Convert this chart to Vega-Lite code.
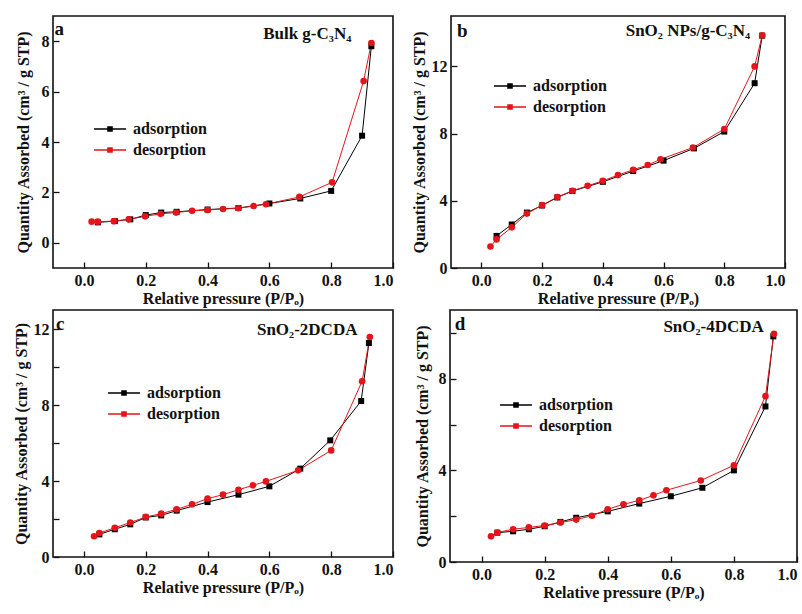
{
  "$schema": "https://vega.github.io/schema/vega-lite/v6.json",
  "background": "white",
  "padding": {"left": 12, "top": 15, "right": 5, "bottom": 5},
  "datasets": {
    "a": [
      {"p": 0.045, "q": 0.81, "s": "adsorption"},
      {"p": 0.1, "q": 0.86, "s": "adsorption"},
      {"p": 0.15, "q": 0.93, "s": "adsorption"},
      {"p": 0.2, "q": 1.1, "s": "adsorption"},
      {"p": 0.25, "q": 1.2, "s": "adsorption"},
      {"p": 0.3, "q": 1.23, "s": "adsorption"},
      {"p": 0.4, "q": 1.32, "s": "adsorption"},
      {"p": 0.5, "q": 1.38, "s": "adsorption"},
      {"p": 0.6, "q": 1.56, "s": "adsorption"},
      {"p": 0.7, "q": 1.76, "s": "adsorption"},
      {"p": 0.8, "q": 2.06, "s": "adsorption"},
      {"p": 0.9, "q": 4.25, "s": "adsorption"},
      {"p": 0.93, "q": 7.8, "s": "adsorption"},
      {"p": 0.93, "q": 7.93, "s": "desorption"},
      {"p": 0.905, "q": 6.42, "s": "desorption"},
      {"p": 0.803, "q": 2.4, "s": "desorption"},
      {"p": 0.697, "q": 1.82, "s": "desorption"},
      {"p": 0.589, "q": 1.53, "s": "desorption"},
      {"p": 0.549, "q": 1.46, "s": "desorption"},
      {"p": 0.5, "q": 1.37, "s": "desorption"},
      {"p": 0.45, "q": 1.34, "s": "desorption"},
      {"p": 0.4, "q": 1.3, "s": "desorption"},
      {"p": 0.35, "q": 1.27, "s": "desorption"},
      {"p": 0.298, "q": 1.2, "s": "desorption"},
      {"p": 0.248, "q": 1.15, "s": "desorption"},
      {"p": 0.198, "q": 1.05, "s": "desorption"},
      {"p": 0.145, "q": 0.93, "s": "desorption"},
      {"p": 0.097, "q": 0.86, "s": "desorption"},
      {"p": 0.045, "q": 0.84, "s": "desorption"},
      {"p": 0.025, "q": 0.84, "s": "desorption"}
    ],
    "b": [
      {"p": 0.05, "q": 1.91, "s": "adsorption"},
      {"p": 0.1, "q": 2.59, "s": "adsorption"},
      {"p": 0.15, "q": 3.3, "s": "adsorption"},
      {"p": 0.2, "q": 3.72, "s": "adsorption"},
      {"p": 0.25, "q": 4.2, "s": "adsorption"},
      {"p": 0.3, "q": 4.58, "s": "adsorption"},
      {"p": 0.4, "q": 5.13, "s": "adsorption"},
      {"p": 0.5, "q": 5.77, "s": "adsorption"},
      {"p": 0.6, "q": 6.39, "s": "adsorption"},
      {"p": 0.7, "q": 7.12, "s": "adsorption"},
      {"p": 0.8, "q": 8.12, "s": "adsorption"},
      {"p": 0.9, "q": 11.0, "s": "adsorption"},
      {"p": 0.925, "q": 13.83, "s": "adsorption"},
      {"p": 0.925, "q": 13.85, "s": "desorption"},
      {"p": 0.9, "q": 12.0, "s": "desorption"},
      {"p": 0.8, "q": 8.27, "s": "desorption"},
      {"p": 0.697, "q": 7.17, "s": "desorption"},
      {"p": 0.59, "q": 6.47, "s": "desorption"},
      {"p": 0.548, "q": 6.13, "s": "desorption"},
      {"p": 0.5, "q": 5.85, "s": "desorption"},
      {"p": 0.45, "q": 5.53, "s": "desorption"},
      {"p": 0.4, "q": 5.19, "s": "desorption"},
      {"p": 0.35, "q": 4.89, "s": "desorption"},
      {"p": 0.3, "q": 4.6, "s": "desorption"},
      {"p": 0.25, "q": 4.22, "s": "desorption"},
      {"p": 0.2, "q": 3.74, "s": "desorption"},
      {"p": 0.15, "q": 3.24, "s": "desorption"},
      {"p": 0.1, "q": 2.42, "s": "desorption"},
      {"p": 0.05, "q": 1.7, "s": "desorption"},
      {"p": 0.03, "q": 1.28, "s": "desorption"}
    ],
    "c": [
      {"p": 0.05, "q": 1.19, "s": "adsorption"},
      {"p": 0.1, "q": 1.46, "s": "adsorption"},
      {"p": 0.15, "q": 1.72, "s": "adsorption"},
      {"p": 0.2, "q": 2.08, "s": "adsorption"},
      {"p": 0.25, "q": 2.19, "s": "adsorption"},
      {"p": 0.3, "q": 2.44, "s": "adsorption"},
      {"p": 0.4, "q": 2.89, "s": "adsorption"},
      {"p": 0.5, "q": 3.28, "s": "adsorption"},
      {"p": 0.6, "q": 3.72, "s": "adsorption"},
      {"p": 0.7, "q": 4.65, "s": "adsorption"},
      {"p": 0.797, "q": 6.14, "s": "adsorption"},
      {"p": 0.897, "q": 8.21, "s": "adsorption"},
      {"p": 0.922, "q": 11.26, "s": "adsorption"},
      {"p": 0.925, "q": 11.58, "s": "desorption"},
      {"p": 0.9, "q": 9.25, "s": "desorption"},
      {"p": 0.8, "q": 5.61, "s": "desorption"},
      {"p": 0.693, "q": 4.56, "s": "desorption"},
      {"p": 0.589, "q": 3.98, "s": "desorption"},
      {"p": 0.547, "q": 3.77, "s": "desorption"},
      {"p": 0.5, "q": 3.54, "s": "desorption"},
      {"p": 0.45, "q": 3.28, "s": "desorption"},
      {"p": 0.4, "q": 3.07, "s": "desorption"},
      {"p": 0.35, "q": 2.77, "s": "desorption"},
      {"p": 0.3, "q": 2.51, "s": "desorption"},
      {"p": 0.25, "q": 2.28, "s": "desorption"},
      {"p": 0.2, "q": 2.11, "s": "desorption"},
      {"p": 0.15, "q": 1.81, "s": "desorption"},
      {"p": 0.1, "q": 1.54, "s": "desorption"},
      {"p": 0.05, "q": 1.26, "s": "desorption"},
      {"p": 0.033, "q": 1.09, "s": "desorption"}
    ],
    "d": [
      {"p": 0.05, "q": 1.28, "s": "adsorption"},
      {"p": 0.1, "q": 1.34, "s": "adsorption"},
      {"p": 0.15, "q": 1.43, "s": "adsorption"},
      {"p": 0.2, "q": 1.56, "s": "adsorption"},
      {"p": 0.25, "q": 1.75, "s": "adsorption"},
      {"p": 0.3, "q": 1.93, "s": "adsorption"},
      {"p": 0.4, "q": 2.21, "s": "adsorption"},
      {"p": 0.5, "q": 2.55, "s": "adsorption"},
      {"p": 0.6, "q": 2.87, "s": "adsorption"},
      {"p": 0.7, "q": 3.24, "s": "adsorption"},
      {"p": 0.8, "q": 4.0, "s": "adsorption"},
      {"p": 0.9, "q": 6.79, "s": "adsorption"},
      {"p": 0.925, "q": 9.85, "s": "adsorption"},
      {"p": 0.927, "q": 9.96, "s": "desorption"},
      {"p": 0.9, "q": 7.24, "s": "desorption"},
      {"p": 0.8, "q": 4.22, "s": "desorption"},
      {"p": 0.695, "q": 3.56, "s": "desorption"},
      {"p": 0.586, "q": 3.13, "s": "desorption"},
      {"p": 0.545, "q": 2.91, "s": "desorption"},
      {"p": 0.5, "q": 2.69, "s": "desorption"},
      {"p": 0.45, "q": 2.52, "s": "desorption"},
      {"p": 0.4, "q": 2.3, "s": "desorption"},
      {"p": 0.35, "q": 2.02, "s": "desorption"},
      {"p": 0.3, "q": 1.85, "s": "desorption"},
      {"p": 0.25, "q": 1.72, "s": "desorption"},
      {"p": 0.2, "q": 1.59, "s": "desorption"},
      {"p": 0.15, "q": 1.51, "s": "desorption"},
      {"p": 0.1, "q": 1.43, "s": "desorption"},
      {"p": 0.05, "q": 1.29, "s": "desorption"},
      {"p": 0.03, "q": 1.12, "s": "desorption"}
    ]
  },
  "config": {
    "view": {"stroke": "#111111", "strokeWidth": 1.6},
    "font": "Liberation Serif",
    "axis": {
      "domain": false, "grid": false,
      "labelFont": "Liberation Serif", "labelFontWeight": "bold", "labelFontSize": 16, "labelColor": "#111111",
      "titleFont": "Liberation Serif", "titleFontWeight": "bold", "titleFontSize": 16, "titleColor": "#111111",
      "tickColor": "#111111", "tickWidth": 1.3, "tickSize": -6, "labelPadding": 10
    },
    "legend": {
      "orient": "none", "labelFont": "Liberation Serif", "labelFontWeight": "bold", "labelFontSize": 16,
      "labelColor": "#111111", "symbolSize": 100, "labelOffset": 15, "rowPadding": 5, "title": null,
      "symbolStrokeWidth": 1.6
    }
  },
  "vconcat": [
    {
      "hconcat": [
        {
          "width": 340, "height": 252,
          "layer": [
            {
              "data": {"name": "a"},
              "mark": {"type": "line", "strokeWidth": 1},
              "encoding": {
                "x": {"field": "p", "type": "quantitative", "scale": {"domain": [-0.1, 1.0], "nice": false, "zero": false},
                      "axis": {"values": [0, 0.2, 0.4, 0.6, 0.8, 1.0], "format": ".1f", "title": "Relative pressure (P/Pₒ)", "titlePadding": 2}},
                "y": {"field": "q", "type": "quantitative", "scale": {"domain": [-1, 9], "nice": false, "zero": false},
                      "axis": {"values": [0, 2, 4, 6, 8], "title": "Quantity Assorbed (cm³ / g STP)", "titlePadding": 10}},
                "color": {"field": "s", "type": "nominal", "scale": {"domain": ["adsorption", "desorption"], "range": ["#000000", "#e3151b"]},
                  "legend": {"legendX": 49, "legendY": 105, "symbolType": "M-3.2,0H3.2M-0.4,-0.4H0.4V0.4H-0.4Z"}}
              }
            },
            {
              "data": {"name": "a"},
              "transform": [{"filter": "datum.s === 'adsorption'"}],
              "mark": {"type": "point", "shape": "square", "filled": true, "opacity": 1, "size": 36},
              "encoding": {"x": {"field": "p", "type": "quantitative"}, "y": {"field": "q", "type": "quantitative"}, "color": {"field": "s", "type": "nominal", "legend": null}}
            },
            {
              "data": {"name": "a"},
              "transform": [{"filter": "datum.s === 'desorption'"}],
              "mark": {"type": "point", "shape": "circle", "filled": true, "opacity": 1, "size": 44},
              "encoding": {"x": {"field": "p", "type": "quantitative"}, "y": {"field": "q", "type": "quantitative"}, "color": {"field": "s", "type": "nominal", "legend": null}}
            },
            {
              "data": {"values": [{"x": -0.095, "y": 8.5, "t": "a"}]},
              "mark": {"type": "text", "font": "Liberation Serif", "fontWeight": "bold", "fontSize": 19, "align": "left", "baseline": "middle", "color": "#111111"},
              "encoding": {"x": {"field": "x", "type": "quantitative"}, "y": {"field": "y", "type": "quantitative"}, "text": {"field": "t"}}
            },
            {
              "data": {"values": [{"x": 0.865, "y": 8.28, "t": "Bulk g-C₃N₄"}]},
              "mark": {"type": "text", "font": "Liberation Serif", "fontWeight": "bold", "fontSize": 17, "align": "right", "baseline": "middle", "color": "#111111"},
              "encoding": {"x": {"field": "x", "type": "quantitative"}, "y": {"field": "y", "type": "quantitative"}, "text": {"field": "t"}}
            }
          ]
        },
        {
          "width": 334, "height": 252,
          "layer": [
            {
              "data": {"name": "b"},
              "mark": {"type": "line", "strokeWidth": 1},
              "encoding": {
                "x": {"field": "p", "type": "quantitative", "scale": {"domain": [-0.1, 1.0], "nice": false, "zero": false},
                      "axis": {"values": [0, 0.1, 0.2, 0.3, 0.4, 0.5, 0.6, 0.7, 0.8, 0.9, 1.0], "labelExpr": "round(datum.value*10) % 2 == 0 ? format(datum.value, '.1f') : ''", "title": "Relative pressure (P/Pₒ)", "titlePadding": 2}},
                "y": {"field": "q", "type": "quantitative", "scale": {"domain": [0, 15], "nice": false, "zero": false},
                      "axis": {"values": [0, 2, 4, 6, 8, 10, 12, 14], "labelExpr": "datum.value % 4 == 0 ? datum.label : ''", "title": "Quantity Assorbed (cm³ / g STP)", "titlePadding": 4}},
                "color": {"field": "s", "type": "nominal", "scale": {"domain": ["adsorption", "desorption"], "range": ["#000000", "#e3151b"]},
                  "legend": {"legendX": 51, "legendY": 62, "symbolType": "M-3.2,0H3.2M-0.4,-0.4H0.4V0.4H-0.4Z"}}
              }
            },
            {
              "data": {"name": "b"},
              "transform": [{"filter": "datum.s === 'adsorption'"}],
              "mark": {"type": "point", "shape": "square", "filled": true, "opacity": 1, "size": 36},
              "encoding": {"x": {"field": "p", "type": "quantitative"}, "y": {"field": "q", "type": "quantitative"}, "color": {"field": "s", "type": "nominal", "legend": null}}
            },
            {
              "data": {"name": "b"},
              "transform": [{"filter": "datum.s === 'desorption'"}],
              "mark": {"type": "point", "shape": "circle", "filled": true, "opacity": 1, "size": 44},
              "encoding": {"x": {"field": "p", "type": "quantitative"}, "y": {"field": "q", "type": "quantitative"}, "color": {"field": "s", "type": "nominal", "legend": null}}
            },
            {
              "data": {"values": [{"x": -0.08, "y": 14.1, "t": "b"}]},
              "mark": {"type": "text", "font": "Liberation Serif", "fontWeight": "bold", "fontSize": 19, "align": "left", "baseline": "middle", "color": "#111111"},
              "encoding": {"x": {"field": "x", "type": "quantitative"}, "y": {"field": "y", "type": "quantitative"}, "text": {"field": "t"}}
            },
            {
              "data": {"values": [{"x": 0.885, "y": 14.1, "t": "SnO₂ NPs/g-C₃N₄"}]},
              "mark": {"type": "text", "font": "Liberation Serif", "fontWeight": "bold", "fontSize": 17, "align": "right", "baseline": "middle", "color": "#111111"},
              "encoding": {"x": {"field": "x", "type": "quantitative"}, "y": {"field": "y", "type": "quantitative"}, "text": {"field": "t"}}
            }
          ]
        }
      ],
      "spacing": 15,
      "resolve": {"scale": {"color": "independent"}, "legend": {"color": "independent"}}
    },
    {
      "hconcat": [
        {
          "width": 340, "height": 247,
          "layer": [
            {
              "data": {"name": "c"},
              "mark": {"type": "line", "strokeWidth": 1},
              "encoding": {
                "x": {"field": "p", "type": "quantitative", "scale": {"domain": [-0.1, 1.0], "nice": false, "zero": false},
                      "axis": {"values": [0, 0.1, 0.2, 0.3, 0.4, 0.5, 0.6, 0.7, 0.8, 0.9, 1.0], "labelExpr": "round(datum.value*10) % 2 == 0 ? format(datum.value, '.1f') : ''", "title": "Relative pressure (P/Pₒ)", "titlePadding": 2}},
                "y": {"field": "q", "type": "quantitative", "scale": {"domain": [0, 13], "nice": false, "zero": false},
                      "axis": {"values": [0, 2, 4, 6, 8, 10, 12], "labelExpr": "datum.value % 4 == 0 ? datum.label : ''", "title": "Quantity Assorbed (cm³ / g STP)", "titlePadding": 4}},
                "color": {"field": "s", "type": "nominal", "scale": {"domain": ["adsorption", "desorption"], "range": ["#000000", "#e3151b"]},
                  "legend": {"legendX": 63, "legendY": 75, "symbolType": "M-3.2,0H3.2M-0.4,-0.4H0.4V0.4H-0.4Z"}}
              }
            },
            {
              "data": {"name": "c"},
              "transform": [{"filter": "datum.s === 'adsorption'"}],
              "mark": {"type": "point", "shape": "square", "filled": true, "opacity": 1, "size": 36},
              "encoding": {"x": {"field": "p", "type": "quantitative"}, "y": {"field": "q", "type": "quantitative"}, "color": {"field": "s", "type": "nominal", "legend": null}}
            },
            {
              "data": {"name": "c"},
              "transform": [{"filter": "datum.s === 'desorption'"}],
              "mark": {"type": "point", "shape": "circle", "filled": true, "opacity": 1, "size": 44},
              "encoding": {"x": {"field": "p", "type": "quantitative"}, "y": {"field": "q", "type": "quantitative"}, "color": {"field": "s", "type": "nominal", "legend": null}}
            },
            {
              "data": {"values": [{"x": -0.09, "y": 12.25, "t": "c"}]},
              "mark": {"type": "text", "font": "Liberation Serif", "fontWeight": "bold", "fontSize": 19, "align": "left", "baseline": "middle", "color": "#111111"},
              "encoding": {"x": {"field": "x", "type": "quantitative"}, "y": {"field": "y", "type": "quantitative"}, "text": {"field": "t"}}
            },
            {
              "data": {"values": [{"x": 0.885, "y": 11.95, "t": "SnO₂-2DCDA"}]},
              "mark": {"type": "text", "font": "Liberation Serif", "fontWeight": "bold", "fontSize": 17, "align": "right", "baseline": "middle", "color": "#111111"},
              "encoding": {"x": {"field": "x", "type": "quantitative"}, "y": {"field": "y", "type": "quantitative"}, "text": {"field": "t"}}
            }
          ]
        },
        {
          "width": 347, "height": 252,
          "layer": [
            {
              "data": {"name": "d"},
              "mark": {"type": "line", "strokeWidth": 1},
              "encoding": {
                "x": {"field": "p", "type": "quantitative", "scale": {"domain": [-0.1, 1.0], "nice": false, "zero": false},
                      "axis": {"values": [0, 0.1, 0.2, 0.3, 0.4, 0.5, 0.6, 0.7, 0.8, 0.9, 1.0], "labelExpr": "round(datum.value*10) % 2 == 0 ? format(datum.value, '.1f') : ''", "title": "Relative pressure (P/Pₒ)", "titlePadding": 2}},
                "y": {"field": "q", "type": "quantitative", "scale": {"domain": [0, 11], "nice": false, "zero": false},
                      "axis": {"values": [0, 2, 4, 6, 8, 10], "labelExpr": "datum.value % 4 == 0 ? datum.label : ''", "title": "Quantity Assorbed (cm³ / g STP)", "titlePadding": 8}},
                "color": {"field": "s", "type": "nominal", "scale": {"domain": ["adsorption", "desorption"], "range": ["#000000", "#e3151b"]},
                  "legend": {"legendX": 58, "legendY": 87, "symbolType": "M-3.2,0H3.2M-0.4,-0.4H0.4V0.4H-0.4Z"}}
              }
            },
            {
              "data": {"name": "d"},
              "transform": [{"filter": "datum.s === 'adsorption'"}],
              "mark": {"type": "point", "shape": "square", "filled": true, "opacity": 1, "size": 36},
              "encoding": {"x": {"field": "p", "type": "quantitative"}, "y": {"field": "q", "type": "quantitative"}, "color": {"field": "s", "type": "nominal", "legend": null}}
            },
            {
              "data": {"name": "d"},
              "transform": [{"filter": "datum.s === 'desorption'"}],
              "mark": {"type": "point", "shape": "circle", "filled": true, "opacity": 1, "size": 44},
              "encoding": {"x": {"field": "p", "type": "quantitative"}, "y": {"field": "q", "type": "quantitative"}, "color": {"field": "s", "type": "nominal", "legend": null}}
            },
            {
              "data": {"values": [{"x": -0.085, "y": 10.4, "t": "d"}]},
              "mark": {"type": "text", "font": "Liberation Serif", "fontWeight": "bold", "fontSize": 19, "align": "left", "baseline": "middle", "color": "#111111"},
              "encoding": {"x": {"field": "x", "type": "quantitative"}, "y": {"field": "y", "type": "quantitative"}, "text": {"field": "t"}}
            },
            {
              "data": {"values": [{"x": 0.895, "y": 10.27, "t": "SnO₂-4DCDA"}]},
              "mark": {"type": "text", "font": "Liberation Serif", "fontWeight": "bold", "fontSize": 17, "align": "right", "baseline": "middle", "color": "#111111"},
              "encoding": {"x": {"field": "x", "type": "quantitative"}, "y": {"field": "y", "type": "quantitative"}, "text": {"field": "t"}}
            }
          ]
        }
      ],
      "spacing": 18,
      "resolve": {"scale": {"color": "independent"}, "legend": {"color": "independent"}}
    }
  ],
  "spacing": 2,
  "resolve": {"scale": {"x": "independent", "y": "independent", "color": "independent"}, "legend": {"color": "independent"}}
}
